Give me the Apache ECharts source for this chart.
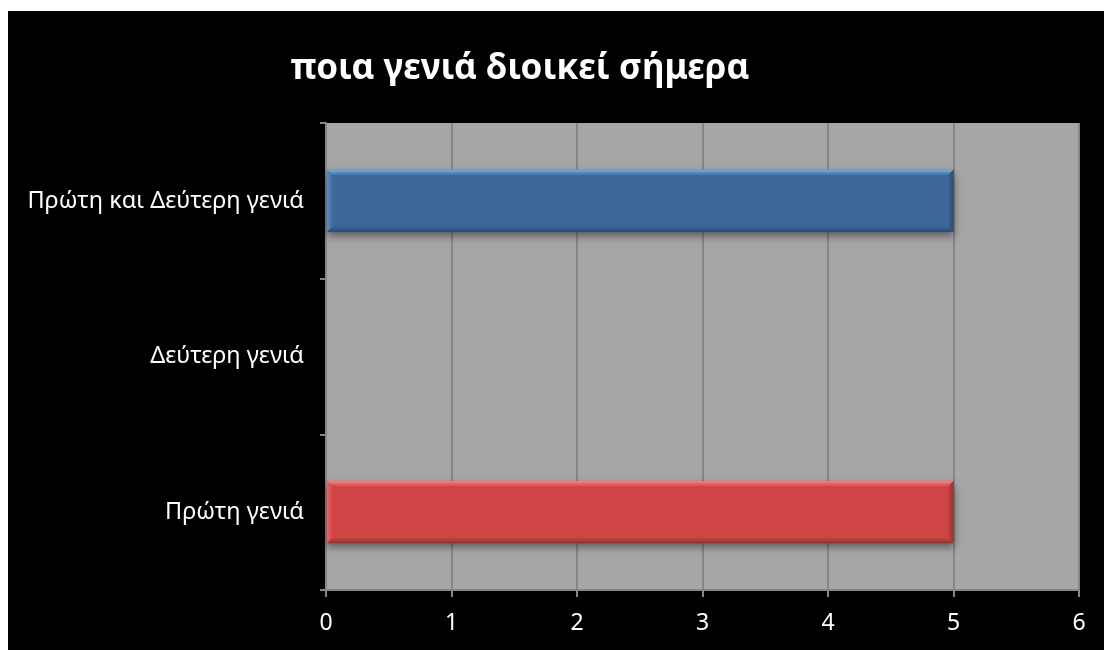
<!DOCTYPE html>
<html>
<head>
<meta charset="utf-8">
<script src="https://cdn.jsdelivr.net/npm/echarts@6/dist/echarts.min.js"></script>
<style>
  html, body { margin: 0; padding: 0; background: #ffffff; }
  #chart { position: absolute; left: 8px; top: 11px; width: 1096px; height: 639px; background: #000000; }
</style>
</head>
<body>
<div id="chart"></div>
<script>
// Chart data
const titleText = 'ποια γενιά διοικεί σήμερα';
const categories = ['Πρώτη γενιά', 'Δεύτερη γενιά', 'Πρώτη και Δεύτερη γενιά'];
const values = [5, 0, 5];
const xTicks = [0, 1, 2, 3, 4, 5, 6];

// Bevelled fill colours per category: [light edge, face, dark edge]
const barPalette = [
  ['#f48383', '#cf4444', '#9a2d2d'],
  ['#8fb3e0', '#3d6899', '#2a4a72'],
  ['#80aade', '#3d6899', '#2a4a72']
];

const fontFamily = '"Noto Sans", "Open Sans", sans-serif';
const chart = echarts.init(document.getElementById('chart'), null, { renderer: 'canvas' });

const seriesData = values.map((v, i) => [v, i]);

function renderBevelBar(params, api) {
  const v = api.value(0);
  const idx = api.value(1);
  if (!v) return null;
  const start = api.coord([0, idx]);
  const end = api.coord([v, idx]);
  const bandH = api.size([0, 1])[1];
  const h = bandH * 0.4;
  const x0 = start[0] + 1;
  const x1 = end[0];
  const y0 = start[1] - h / 2;
  const y1 = y0 + h;
  const b = 6;
  const [light, face, dark] = barPalette[idx];
  return {
    type: 'group',
    children: [
      {
        type: 'rect',
        shape: { x: x0, y: y0, width: x1 - x0, height: h },
        style: {
          fill: face,
          shadowBlur: 8,
          shadowOffsetY: 4,
          shadowColor: 'rgba(0,0,0,0.45)'
        }
      },
      {
        type: 'polygon',
        shape: { points: [[x0, y0], [x1, y0], [x1 - b, y0 + b], [x0 + b, y0 + b]] },
        style: {
          fill: new echarts.graphic.LinearGradient(0, 0, 0, 1, [
            { offset: 0, color: light },
            { offset: 1, color: face }
          ])
        }
      },
      {
        type: 'polygon',
        shape: { points: [[x0, y0], [x0 + b, y0 + b], [x0 + b, y1 - b], [x0, y1]] },
        style: {
          fill: new echarts.graphic.LinearGradient(0, 0, 1, 0, [
            { offset: 0, color: light },
            { offset: 1, color: face }
          ]),
          opacity: 0.55
        }
      },
      {
        type: 'polygon',
        shape: { points: [[x0, y1], [x0 + b, y1 - b], [x1 - b, y1 - b], [x1, y1]] },
        style: {
          fill: new echarts.graphic.LinearGradient(0, 0, 0, 1, [
            { offset: 0, color: face },
            { offset: 1, color: dark }
          ])
        }
      },
      {
        type: 'polygon',
        shape: { points: [[x1, y0], [x1, y1], [x1 - b, y1 - b], [x1 - b, y0 + b]] },
        style: {
          fill: new echarts.graphic.LinearGradient(0, 0, 1, 0, [
            { offset: 0, color: face },
            { offset: 1, color: dark }
          ])
        }
      }
    ]
  };
}

chart.setOption({
  backgroundColor: '#000000',
  animation: false,
  graphic: [{
    type: 'text',
    x: 512,
    y: 41,
    style: {
      text: titleText,
      fill: '#ffffff',
      font: 'bold 35px ' + fontFamily,
      align: 'center',
      verticalAlign: 'top'
    }
  }],
  grid: {
    left: 318,
    top: 112,
    right: 25,
    bottom: 60,
    show: true,
    backgroundColor: '#a6a6a6',
    borderWidth: 0
  },
  xAxis: {
    type: 'value',
    min: xTicks[0],
    max: xTicks[xTicks.length - 1],
    interval: 1,
    axisLine: { show: true, lineStyle: { color: '#868686', width: 2 } },
    axisTick: { show: true, length: 7, lineStyle: { color: '#868686', width: 2 } },
    splitLine: { show: true, lineStyle: { color: '#868686', width: 2 } },
    axisLabel: { color: '#ffffff', fontSize: 23, fontFamily: fontFamily, margin: 22 }
  },
  yAxis: {
    type: 'category',
    data: categories,
    axisLine: { show: true, lineStyle: { color: '#868686', width: 2 } },
    axisTick: { show: true, length: 6, lineStyle: { color: '#868686', width: 2 } },
    splitLine: { show: false },
    axisLabel: { color: '#ffffff', fontSize: 23.5, fontFamily: fontFamily, margin: 22 }
  },
  series: [{
    type: 'custom',
    renderItem: renderBevelBar,
    encode: { x: 0, y: 1 },
    data: seriesData,
    clip: false
  }]
});
</script>
</body>
</html>
